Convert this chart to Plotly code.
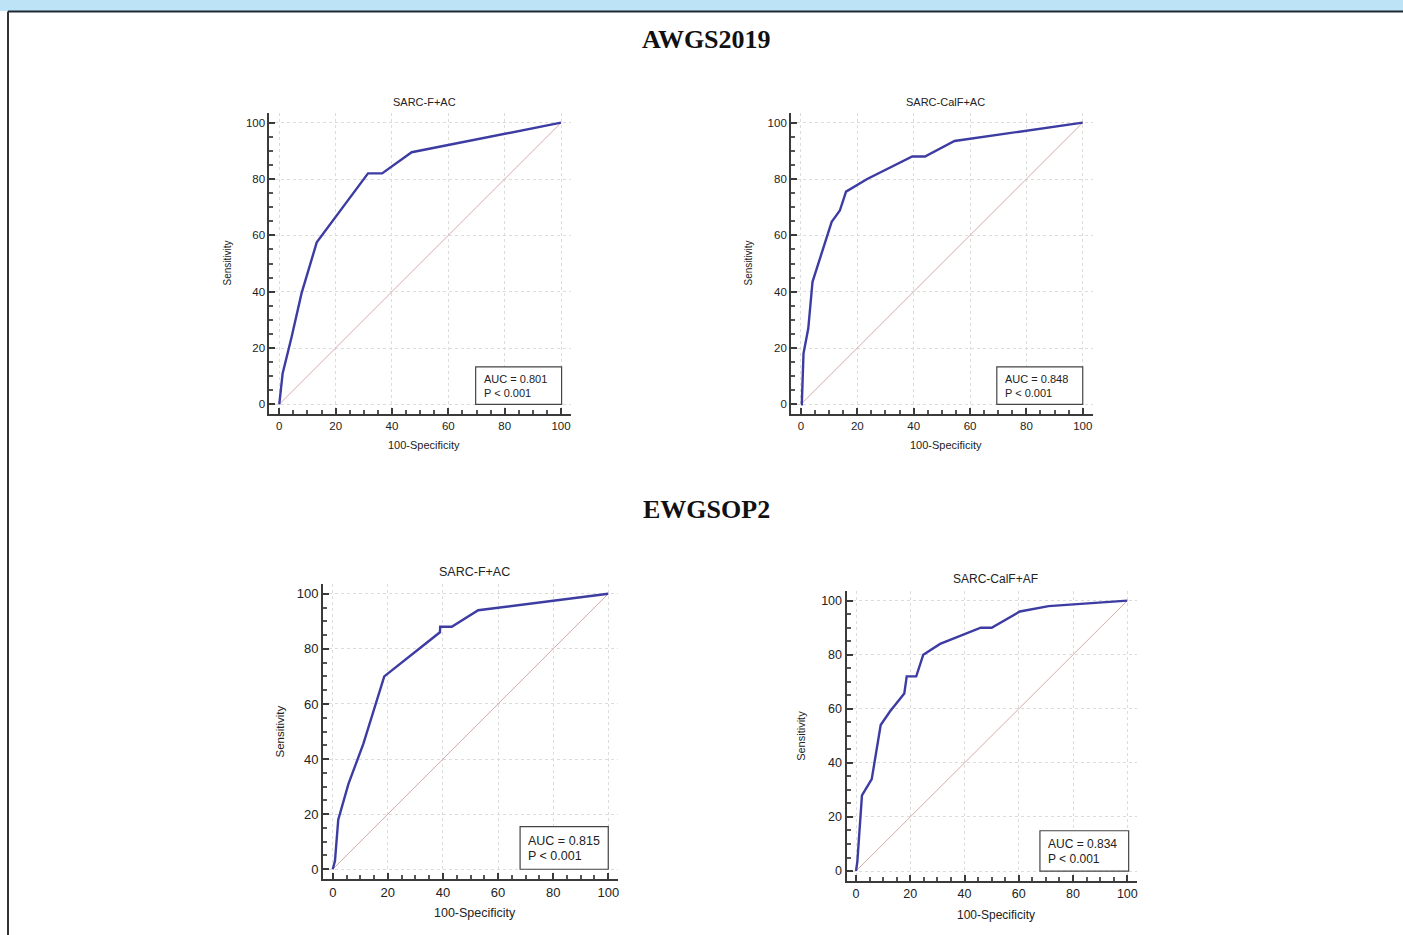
import plotly.graph_objects as go

# ---------------- data ----------------
titles = ["SARC-F+AC", "SARC-CalF+AC", "SARC-F+AC", "SARC-CalF+AF"]
auc_labels = ["AUC = 0.801", "AUC = 0.848", "AUC = 0.815", "AUC = 0.834"]
p_label = "P &lt; 0.001"
group_headings = ["AWGS2019", "EWGSOP2"]
tick_values = [0, 20, 40, 60, 80, 100]

fpr_awgs_sarcf = [0, 1.2, 4.4, 7.9, 13.3, 31.5, 36.5, 47, 100]
tpr_awgs_sarcf = [0, 11, 24, 39.4, 57.5, 82, 82, 89.5, 100]

fpr_awgs_calf = [0, 0.3, 0.9, 2.6, 4.1, 6.2, 10.9, 12.5, 13.8, 16, 23.5, 39.5, 44, 54.5, 100]
tpr_awgs_calf = [0, 0, 18, 27, 43.5, 50, 64.8, 67, 68.8, 75.5, 80, 88, 88, 93.5, 100]

fpr_ewg_sarcf = [0, 0.8, 2, 5.7, 11.1, 18.7, 38.9, 39, 43.2, 52.8, 100]
tpr_ewg_sarcf = [0, 3, 18, 31, 45.5, 70, 86, 88, 88, 94, 100]

fpr_ewg_calf = [0, 0.5, 2.2, 5.8, 9.1, 12.5, 17.8, 18.7, 22.2, 24.8, 31, 46, 50, 60.4, 71, 100]
tpr_ewg_calf = [0, 3.5, 28, 34, 54, 59, 65.7, 72, 72, 80, 84, 90, 90, 96, 98, 100]

diag = [0, 100]

curves = [
    (fpr_awgs_sarcf, tpr_awgs_sarcf),
    (fpr_awgs_calf, tpr_awgs_calf),
    (fpr_ewg_sarcf, tpr_ewg_sarcf),
    (fpr_ewg_calf, tpr_ewg_calf),
]

# ---------------- layout (pixel geometry) ----------------
W, H = 1403, 935
# plot-area pixel boxes: left, right, top, bottom
boxes = [
    (269.4, 570.9, 112.8, 414.2),
    (791.1, 1092.6, 112.8, 414.2),
    (323.1, 617.9, 584.1, 878.9),
    (846.5, 1136.8, 591.2, 880.5),
]
font_sizes = [11, 11, 12.5, 12]
tick_sizes = [11.5, 11.5, 13, 12.5]
title_y = [102, 102, 572, 579]
ytitle_x = [227, 748, 279, 801]
xtitle_y = [445, 445, 913, 915]
auc_box = [(69.7, 100.2, 0, 13.3), (69.5, 100, 0, 13.3), (68, 100, 0, 15.5), (67.8, 100.5, 0, 14.9)]
heading_y = [40, 510]

RNG = [-3.5, 103.5]
CURVE = "#3c3ca2"
DIAG = "#d6aaaa"
TXT = "#222222"
FONT = "Liberation Sans, Arial, sans-serif"

def px(x):
    return x / W

def py(y):
    return 1 - y / H

fig = go.Figure()
annotations = []
shapes = []

for i, ((fx, ty), (l, r, t, b)) in enumerate(zip(curves, boxes)):
    n = "" if i == 0 else str(i + 1)
    xa, ya = "x" + n, "y" + n
    fs = font_sizes[i]
    fig.add_trace(go.Scatter(x=diag, y=diag, mode="lines", xaxis=xa, yaxis=ya,
                             line=dict(color=DIAG, width=1), hoverinfo="skip", showlegend=False))
    fig.add_trace(go.Scatter(x=fx, y=ty, mode="lines", xaxis=xa, yaxis=ya,
                             line=dict(color=CURVE, width=2.4), showlegend=False))
    axcommon = dict(
        range=RNG, tickvals=tick_values, showline=True, linecolor="#3a3a3a", linewidth=2,
        ticks="inside", ticklen=6, tickwidth=1.5, tickcolor="#3a3a3a",
        minor=dict(ticks="inside", dtick=5, ticklen=4, tickcolor="#555555", showgrid=False),
        showgrid=True, gridcolor="#dcdcdc", griddash="dot", gridwidth=1,
        zeroline=False, mirror=False, fixedrange=True,
        tickfont=dict(family=FONT, size=tick_sizes[i], color=TXT),
    )
    fig.layout["xaxis" + n] = dict(axcommon, domain=[px(l), px(r)], anchor=ya)
    fig.layout["yaxis" + n] = dict(axcommon, domain=[py(b), py(t)], anchor=xa)

    # AUC box
    bx0, bx1, by0, by1 = auc_box[i]
    shapes.append(dict(type="rect", xref=xa, yref=ya, x0=bx0, x1=bx1, y0=by0, y1=by1,
                       line=dict(color="#444444", width=1.2), fillcolor="white", layer="above"))
    annotations.append(dict(xref=xa, yref=ya, x=bx0 + 2.2, y=by1 * 0.67, text=auc_labels[i],
                            showarrow=False, xanchor="left", yanchor="middle",
                            font=dict(family=FONT, size=fs, color=TXT)))
    annotations.append(dict(xref=xa, yref=ya, x=bx0 + 2.2, y=by1 * 0.3, text=p_label,
                            showarrow=False, xanchor="left", yanchor="middle",
                            font=dict(family=FONT, size=fs, color=TXT)))
    # panel title
    annotations.append(dict(xref="paper", yref="paper", x=px((l + r) / 2 + 4), y=py(title_y[i]),
                            text=titles[i], showarrow=False, xanchor="center", yanchor="middle",
                            font=dict(family=FONT, size=fs, color=TXT)))
    # axis titles
    annotations.append(dict(xref="paper", yref="paper", x=px((l + r) / 2 + 4), y=py(xtitle_y[i]),
                            text="100-Specificity", showarrow=False, xanchor="center", yanchor="middle",
                            font=dict(family=FONT, size=fs, color=TXT)))
    annotations.append(dict(xref="paper", yref="paper", x=px(ytitle_x[i]), y=py((t + b) / 2),
                            text="Sensitivity", showarrow=False, textangle=-90,
                            xanchor="center", yanchor="middle",
                            font=dict(family=FONT, size=fs - 1, color=TXT)))

for h, hy in zip(group_headings, heading_y):
    annotations.append(dict(xref="paper", yref="paper", x=px(706), y=py(hy), text="<b>" + h + "</b>",
                            showarrow=False, xanchor="center", yanchor="middle",
                            font=dict(family="Liberation Serif, Times New Roman, serif", size=26,
                                      color="#111111")))

# page decoration: light blue top band and frame lines
shapes.append(dict(type="rect", xref="paper", yref="paper", x0=0, x1=1, y0=py(11), y1=1,
                   fillcolor="#bde3f7", line=dict(width=0), layer="below"))
shapes.append(dict(type="line", xref="paper", yref="paper", x0=px(8), x1=1, y0=py(11.5), y1=py(11.5),
                   line=dict(color="#1d2a36", width=2)))
shapes.append(dict(type="line", xref="paper", yref="paper", x0=px(8), x1=px(8), y0=py(11.5), y1=0,
                   line=dict(color="#333333", width=2)))

fig.update_layout(
    width=W, height=H, margin=dict(l=0, r=0, t=0, b=0),
    paper_bgcolor="white", plot_bgcolor="white",
    showlegend=False, annotations=annotations, shapes=shapes,
)

fig.write_html(
    "out.html",
    config={"displayModeBar": False},
    post_script="document.body.style.margin='0';document.body.style.overflow='hidden';",
)
